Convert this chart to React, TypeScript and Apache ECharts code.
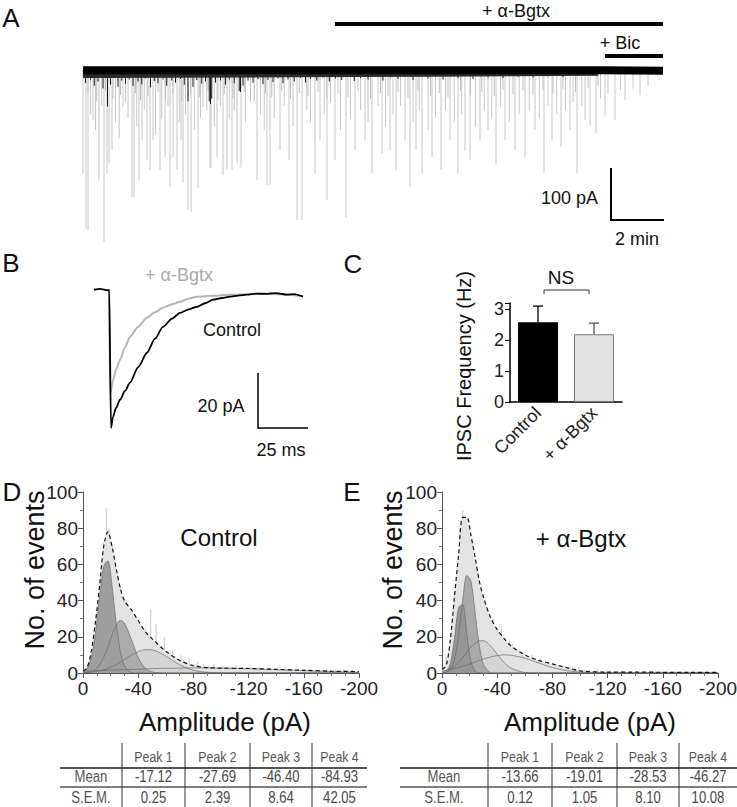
import React, { useEffect, useRef } from 'react';
import * as echarts from 'echarts';

const FONT = "'Liberation Sans', Arial, Helvetica, sans-serif";

// ---------- Panel A: continuous recording (time in min, current in pA) ----------
const aBaseline = [[0, 0], [20.8, 0], [23.2, -1]];
const aFringe = [[0, -11], [8, -10], [14, -9], [20.6, -7]];
const aLargeEvents = [
  [0.0, -198], [0.12, -304], [0.2, -308], [0.4, -96], [0.64, -212], [0.84, -331], [0.96, -198], [1.04, -179],
  [1.16, -154], [1.6, -71], [1.96, -244], [2.04, -244], [2.24, -212], [2.36, -135], [2.56, -173], [2.68, -192],
  [2.8, -135], [3.08, -192], [3.28, -167], [3.48, -225], [3.6, -167], [3.76, -192], [3.92, -135], [4.0, -217],
  [4.2, -269], [4.32, -273], [4.6, -227], [4.8, -71], [5.08, -187], [5.12, -188], [5.36, -167], [5.6, -202],
  [5.76, -192], [5.96, -192], [6.16, -179], [6.32, -187], [6.96, -212], [7.36, -221], [7.48, -221], [7.88, -154],
  [8.24, -173], [8.56, -288], [8.76, -288], [9.28, -198], [9.48, -135], [9.76, -250], [10.08, -173], [10.52, -283],
  [10.88, -154], [11.28, -135], [11.56, -198], [11.96, -160], [12.28, -154], [12.52, -192], [12.88, -135], [13.08, -225],
  [13.32, -154], [13.56, -198], [13.96, -167], [14.32, -192], [14.68, -135], [15.0, -198], [15.28, -154], [15.48, -173],
  [15.88, -135], [16.2, -115], [16.52, -179], [16.88, -135], [17.28, -154], [17.68, -167], [18.08, -115], [18.44, -198],
  [18.76, -135], [19.12, -148], [19.48, -115], [19.76, -198], [20.08, -96], [20.28, -106], [20.52, -121], [20.88, -87],
  [21.28, -96], [21.68, -58], [22.28, -48],
];
const aMediumEvents = [
  [0.3, -85], [0.5, -115], [0.75, -69], [1.3, -100], [1.45, -131], [1.8, -92], [2.15, -108], [2.45, -77],
  [2.9, -123], [3.15, -92], [3.4, -69], [3.85, -100], [4.1, -85], [4.45, -115], [4.7, -92], [4.95, -77],
  [5.25, -108], [5.5, -69], [5.85, -92], [6.05, -77], [6.5, -100], [6.7, -62], [7.1, -85], [7.25, -115],
  [7.65, -92], [8.05, -69], [8.4, -108], [8.95, -77], [9.1, -100], [9.65, -85], [9.9, -62], [10.3, -115],
  [10.7, -92], [11.1, -77], [11.4, -100], [11.8, -69], [12.1, -108], [12.4, -85], [12.7, -69], [13.2, -100],
  [13.45, -77], [13.8, -115], [14.1, -92], [14.5, -77], [14.85, -100], [15.15, -85], [15.7, -108], [16.05, -77],
  [16.35, -92], [16.7, -69], [17.05, -100], [17.45, -85], [17.85, -77], [18.25, -92], [18.6, -69], [18.95, -85],
  [19.3, -77], [19.6, -62], [19.95, -69], [20.7, -54], [21.0, -46], [21.5, -38], [22.0, -35], [22.6, -31],
];
const aShortEvents = [
  [0.2, -45], [0.55, -60], [0.9, -40], [1.2, -55], [1.5, -48], [1.7, -62], [2.1, -44], [2.3, -58], [2.6, -50],
  [3.0, -42], [3.3, -57], [3.6, -46], [3.95, -60], [4.3, -44], [4.65, -52], [5.0, -40], [5.4, -58], [5.65, -46],
  [6.0, -54], [6.45, -42], [6.85, -60], [7.3, -45], [7.55, -52], [7.95, -40], [8.3, -56], [8.65, -44], [9.0, -50],
  [9.4, -42], [9.75, -55], [10.2, -45], [10.6, -52], [11.0, -40], [11.5, -56], [11.9, -44], [12.2, -50], [12.6, -42],
  [13.0, -54], [13.4, -40], [13.9, -50], [14.25, -44], [14.6, -52], [15.1, -40], [15.5, -48], [15.95, -42],
  [16.45, -50], [16.8, -38], [17.2, -46], [17.6, -40], [18.0, -48], [18.4, -38], [18.8, -44], [19.2, -36],
  [19.7, -42], [20.2, -34], [20.6, -30],
];
const aSmallEvents = [
  [0.1, -25], [0.3, -18], [0.45, -30], [0.6, -22], [0.8, -35], [0.98, -70], [1.1, -28], [1.25, -15], [1.4, -32],
  [1.55, -20], [1.7, -26], [1.85, -18], [2.0, -30], [2.2, -22], [2.35, -27], [2.5, -16], [2.7, -33], [2.85, -21],
  [3.0, -25], [3.2, -18], [3.35, -30], [3.55, -20], [3.7, -24], [3.9, -17], [4.05, -28], [4.2, -60], [4.4, -32],
  [4.55, -19], [4.75, -26], [4.9, -22], [5.05, -60], [5.1, -65], [5.15, -55], [5.3, -24], [5.5, -20], [5.7, -28],
  [5.85, -18], [6.05, -25], [6.25, -40], [6.3, -42], [6.4, -30], [6.6, -20], [6.8, -24], [7.0, -17], [7.2, -27],
  [7.4, -19], [7.6, -23], [7.8, -16], [8.0, -25], [8.2, -18], [8.45, -22], [8.7, -15], [8.9, -24], [9.1, -17],
  [9.35, -20], [9.6, -14], [9.85, -22], [10.1, -16], [10.35, -19], [10.6, -13], [10.85, -21], [11.1, -15],
  [11.4, -18], [11.7, -13], [12.0, -20], [12.3, -14], [12.6, -17], [12.9, -12], [13.2, -19], [13.5, -13],
  [13.8, -16], [14.1, -12], [14.4, -18], [14.7, -12], [15.0, -15], [15.3, -11], [15.6, -17], [15.9, -12],
  [16.2, -14], [16.5, -10], [16.8, -15], [17.1, -11], [17.4, -13], [17.7, -10], [18.0, -14], [18.3, -10],
  [18.6, -12], [18.9, -9], [19.2, -13], [19.5, -9], [19.8, -11], [20.1, -8], [20.4, -10], [20.7, -8],
];

// ---------- Panel B: averaged IPSCs (time in ms, current in pA) ----------
const bControl = [
  [2, 0], [5, 0.3], [9, -0.2], [9.6, 0], [10.5, -50.2], [11.5, -46.2], [13, -43], [15, -40], [17.5, -36.8],
  [20, -33.8], [24, -28.2], [28.5, -22.9], [32.5, -17.8], [36.5, -13.5], [41, -10.5], [45, -8.4], [49, -7.2],
  [53.5, -6.2], [57.5, -4.9], [61.5, -3.6], [66, -3], [70, -2.5], [74, -2.1], [78.5, -1.8], [83, -1.4],
  [88.5, -1.5], [93, -1.2], [98.5, -1.8], [102, -1.6], [106.5, -2.5],
];
const bBgtx = [
  [9.6, 0], [10, -38.2], [11.5, -33], [13, -29], [15, -25.5], [17.5, -21], [20, -17.1], [24, -13.5],
  [28.5, -10.2], [32.5, -8.2], [36.5, -6.5], [41, -5.3], [45, -4.4], [49, -3.3], [53.5, -2.5], [61.5, -2.2],
  [70, -1.8], [80, -1.6], [90, -1.5], [100, -1.8], [106.5, -2.4],
];

// ---------- Panel C: IPSC frequency ----------
const cCategories = ['Control', '+ α-Bgtx'];
const cFrequency = [2.58, 2.19];
const cSem = [0.52, 0.36];

// ---------- Panels D/E: amplitude histograms ----------
const histBinWidth = 2;
const ctrlHist = [
  2, 4, 8, 15, 26, 38, 55, 72, 91, 80,
  70, 62, 55, 48, 42, 38, 34, 33, 28, 27,
  24, 22, 25, 20, 35, 18, 27, 16, 15, 20,
  12, 11, 13, 9, 8, 10, 7, 6, 8, 5,
  5, 6, 4, 5, 3, 4, 3, 5, 3, 2,
  4, 3, 2, 3, 2, 4, 2, 3, 2, 2,
  3, 2, 1, 3, 2, 1, 2, 3, 1, 2,
  1, 2, 1, 3, 1, 2, 1, 2, 1, 1,
  2, 1, 2, 1, 1, 2, 1, 1, 2, 1,
  1, 2, 1, 1, 2, 1, 1, 2, 1, 1,
];
const bgtxHist = [
  3, 9, 12, 24, 45, 62, 80, 90, 86, 84,
  74, 64, 56, 49, 42, 37, 31, 27, 30, 25,
  22, 26, 19, 17, 18, 16, 14, 13, 12, 11,
  10, 9, 10, 8, 7, 8, 6, 5, 6, 4,
  4, 5, 3, 3, 4, 2, 3, 2, 2, 3,
  1, 2, 1, 2, 1, 1, 2, 1, 1, 2,
  1, 0, 1, 1, 0, 1, 1, 0, 1, 0,
  1, 1, 0, 1, 0, 0, 1, 1, 0, 1,
  0, 1, 0, 0, 1, 0, 1, 0, 0, 1,
  0, 0, 1, 0, 1, 0, 0, 1, 0, 0,
];
const fitAmp = [0, -3, -6, -9, -12, -15, -18, -21, -24, -27, -30, -35, -40, -45, -50, -60, -70, -80, -90, -100, -120, -140, -160, -180, -200];
const ctrlP1 = [0.5, 2.5, 8.5, 21.9, 41.7, 59, 62, 48.4, 28, 12.1, 3.9, 0.3, 0, 0, 0, 0, 0, 0, 0, 0, 0, 0, 0, 0, 0];
const ctrlP2 = [0.1, 0.3, 0.8, 2, 4.4, 8.6, 14.4, 20.9, 26.4, 29, 27.6, 18.7, 8.6, 2.7, 0.6, 0, 0, 0, 0, 0, 0, 0, 0, 0, 0];
const ctrlP3 = [0.2, 0.3, 0.5, 0.8, 1.2, 1.8, 2.5, 3.5, 4.6, 6, 7.4, 9.8, 11.8, 12.9, 12.8, 9.3, 4.6, 1.5, 0.4, 0.1, 0, 0, 0, 0, 0];
const ctrlP4 = [1.0, 1.1, 1.2, 1.25, 1.3, 1.4, 1.6, 1.7, 1.75, 1.8, 1.8, 2.0, 2.1, 2.3, 2.4, 2.6, 2.7, 2.8, 2.8, 2.7, 2.4, 1.8, 1.3, 0.8, 0.4];
const ctrlEnv = [1, 3, 12, 28, 48, 70, 78, 70, 58, 47, 40, 35, 29, 23, 19, 12, 7, 4, 3, 2.7, 2.5, 2, 1.5, 1, 0.8];
const bgtxP1 = [0.1, 0.8, 5.1, 18.6, 36.2, 37.7, 21.1, 6.3, 1, 0.1, 0, 0, 0, 0, 0, 0, 0, 0, 0, 0, 0, 0, 0, 0, 0];
const bgtxP2 = [0, 0.3, 1.8, 7.4, 20.6, 39.9, 53.9, 50.7, 33.4, 15.2, 4.9, 0.3, 0, 0, 0, 0, 0, 0, 0, 0, 0, 0, 0, 0, 0];
const bgtxP3 = [0.6, 1.2, 2.2, 3.7, 5.9, 8.5, 11.4, 14.3, 16.6, 17.8, 17.8, 15.1, 10.4, 5.9, 2.7, 0.3, 0, 0, 0, 0, 0, 0, 0, 0, 0];
const bgtxP4 = [1.1, 1.5, 1.9, 2.4, 3, 3.7, 4.4, 5.2, 6.1, 6.9, 7.7, 8.8, 9.6, 10, 9.8, 8.2, 5.5, 3, 1.4, 0.5, 0, 0, 0, 0, 0];
const bgtxEnv = [2, 4, 18, 42, 65, 86, 86, 76, 64, 51, 42, 31, 24, 19, 15, 10, 7, 5, 3, 1.2, 0.5, 0.5, 0.4, 0.4, 0.4];

// ---------- Tables ----------
const peakHeaders = ['Peak 1', 'Peak 2', 'Peak 3', 'Peak 4'];
const rowLabels = ['Mean', 'S.E.M.'];
const ctrlMean = ['-17.12', '-27.69', '-46.40', '-84.93'];
const ctrlSemTbl = ['0.25', '2.39', '8.64', '42.05'];
const bgtxMean = ['-13.66', '-19.01', '-28.53', '-46.27'];
const bgtxSemTbl = ['0.12', '1.05', '8.10', '10.08'];

// ---------- helpers ----------
const pair = (xs: number[], ys: number[]) => xs.map((x, i) => [x, ys[i]]);

function spikes(data: number[][], color: string, width: number) {
  return {
    type: 'custom', xAxisIndex: 0, yAxisIndex: 0, data, silent: true, clip: false,
    encode: { x: 0, y: 1 },
    renderItem: (_p: any, api: any) => {
      const t = api.value(0), a = api.value(1);
      const p0 = api.coord([t, 0]);
      const p1 = api.coord([t, a]);
      return { type: 'line', shape: { x1: p0[0], y1: p0[1], x2: p1[0], y2: p1[1] }, style: { stroke: color, lineWidth: width } };
    },
  };
}

function histSeries(idx: number, hist: number[], comps: number[][], env: number[], p1Color: string, p2Color: string) {
  const bins = hist.map((v, i) => [-(i * histBinWidth + histBinWidth / 2), v]);
  const lineBase = { type: 'line', xAxisIndex: idx, yAxisIndex: idx, symbol: 'none', smooth: 0.3, silent: true };
  const compLine = { color: '#6a6a6a', width: 0.7 };
  return [
    { ...lineBase, data: pair(fitAmp, env), lineStyle: { width: 0 }, areaStyle: { color: '#e3e3e3', opacity: 1 } },
    { type: 'bar', xAxisIndex: idx, yAxisIndex: idx, data: bins, barWidth: 1.3, itemStyle: { color: '#d2d2d2' }, silent: true },
    { ...lineBase, data: pair(fitAmp, comps[3]), lineStyle: compLine },
    { ...lineBase, data: pair(fitAmp, comps[2]), lineStyle: compLine, areaStyle: { color: '#d4d4d4', opacity: 1 } },
    { ...lineBase, data: pair(fitAmp, comps[1]), lineStyle: compLine, areaStyle: { color: p2Color, opacity: 1 } },
    { ...lineBase, data: pair(fitAmp, comps[0]), lineStyle: compLine, areaStyle: { color: p1Color, opacity: 1 } },
    { ...lineBase, data: pair(fitAmp, env), lineStyle: { color: '#111', width: 1.2, type: [4, 3] } },
  ];
}

function txt(text: string, x: number, y: number, size: number, o: any = {}) {
  return {
    type: 'text', x, y, rotation: o.rot || 0, scaleX: o.sx || 1, silent: true,
    style: { text, fill: o.color || '#111', font: `${size}px ${FONT}`, align: o.align || 'center', verticalAlign: 'middle' },
  };
}
function ln(x1: number, y1: number, x2: number, y2: number, w = 1, c = '#000') {
  return { type: 'line', silent: true, shape: { x1, y1, x2, y2 }, style: { stroke: c, lineWidth: w } };
}

function table(x0: number, x1: number, bounds: number[], means: string[], sems: string[]) {
  const els: any[] = [];
  const rowY = [757, 777, 798];
  const labelCx = (x0 + bounds[0]) / 2;
  const edges = [...bounds, x1];
  const cell = { sx: 0.82, color: '#4a4a4a' };
  peakHeaders.forEach((h, i) => {
    const cx = (edges[i] + edges[i + 1]) / 2;
    els.push(txt(h, cx, rowY[0], 15, { sx: 0.82, color: '#555' }));
    els.push(txt(means[i], cx, rowY[1], 16, cell));
    els.push(txt(sems[i], cx, rowY[2], 16, cell));
  });
  els.push(txt(rowLabels[0], labelCx, rowY[1], 16, { sx: 0.82, color: '#555' }));
  els.push(txt(rowLabels[1], labelCx, rowY[2], 16, { sx: 0.82, color: '#555' }));
  els.push(ln(x0, 768, x1, 768, 2, '#555'));
  els.push(ln(x0, 787, x1, 787, 1.5, '#555'));
  bounds.forEach((b) => els.push(ln(b, 743, b, 807, 1, '#333')));
  return els;
}

const histXAxis = (gridIndex: number) => ({
  type: 'value', gridIndex, min: -200, max: 0, interval: 40, inverse: true,
  axisLine: { show: true, lineStyle: { color: '#555', width: 1 } },
  axisTick: { show: true, length: 5, lineStyle: { color: '#555' } },
  minorTick: { show: true, splitNumber: 4, length: 3, lineStyle: { color: '#777' } },
  axisLabel: { fontSize: 19, color: '#222', margin: 6, fontFamily: FONT },
  splitLine: { show: false },
});
const histYAxis = (gridIndex: number) => ({
  type: 'value', gridIndex, min: 0, max: 100, interval: 20,
  axisLine: { show: true, lineStyle: { color: '#555', width: 1 } },
  axisTick: { show: true, length: 5, lineStyle: { color: '#555' } },
  minorTick: { show: true, splitNumber: 2, length: 3, lineStyle: { color: '#777' } },
  axisLabel: { fontSize: 19, color: '#222', margin: 5, fontFamily: FONT },
  splitLine: { show: false },
});

const option: any = {
  animation: false,
  backgroundColor: '#fff',
  textStyle: { fontFamily: FONT },
  grid: [
    { left: 83, top: 66, width: 580, height: 181, outerBoundsMode: 'none' },
    { left: 90, top: 276, width: 220, height: 165, outerBoundsMode: 'none' },
    { left: 510, top: 303, width: 112, height: 99, outerBoundsMode: 'none' },
    { left: 83, top: 492, width: 276, height: 181, outerBoundsMode: 'none' },
    { left: 442, top: 492, width: 276, height: 181, outerBoundsMode: 'none' },
  ],
  xAxis: [
    { type: 'value', gridIndex: 0, min: 0, max: 23.2, show: false },
    { type: 'value', gridIndex: 1, min: 0, max: 110, show: false },
    {
      type: 'category', gridIndex: 2, data: cCategories,
      axisLine: { show: true, lineStyle: { color: '#000', width: 1.5 } },
      axisTick: { show: false },
      axisLabel: { rotate: 45, fontSize: 18, color: '#222', margin: 8, fontFamily: FONT, interval: 0 },
    },
    histXAxis(3),
    histXAxis(4),
  ],
  yAxis: [
    { type: 'value', gridIndex: 0, min: -340, max: 8, show: false },
    { type: 'value', gridIndex: 1, min: -55, max: 5, show: false },
    {
      type: 'value', gridIndex: 2, min: 0, max: 3.2, interval: 1,
      axisLine: { show: true, lineStyle: { color: '#000', width: 1.5 } },
      axisTick: { show: true, length: 5, lineStyle: { color: '#000' } },
      axisLabel: { fontSize: 18, color: '#222', margin: 6, fontFamily: FONT, formatter: (v: number) => (Number.isInteger(v) ? String(v) : '') },
      splitLine: { show: false },
    },
    histYAxis(3),
    histYAxis(4),
  ],
  series: [
    spikes(aShortEvents, '#bdbdbd', 1),
    spikes(aMediumEvents, '#c6c6c6', 1),
    spikes(aLargeEvents, '#c6c6c6', 1),
    { type: 'line', xAxisIndex: 0, yAxisIndex: 0, data: aFringe, symbol: 'none', silent: true, lineStyle: { color: '#2a2a2a', width: 4 } },
    { type: 'line', xAxisIndex: 0, yAxisIndex: 0, data: aBaseline, symbol: 'none', silent: true, lineStyle: { color: '#000', width: 8 } },
    spikes(aSmallEvents, '#1a1a1a', 1),
    { type: 'line', xAxisIndex: 1, yAxisIndex: 1, data: bBgtx, symbol: 'none', silent: true, smooth: 0.25, smoothMonotone: 'x', lineStyle: { color: '#b4b4b4', width: 2 } },
    { type: 'line', xAxisIndex: 1, yAxisIndex: 1, data: bControl, symbol: 'none', silent: true, smooth: 0.25, smoothMonotone: 'x', lineStyle: { color: '#000', width: 1.8 } },
    {
      type: 'bar', xAxisIndex: 2, yAxisIndex: 2, barWidth: 40, silent: true,
      data: [
        { value: cFrequency[0], itemStyle: { color: '#000' } },
        { value: cFrequency[1], itemStyle: { color: '#e2e2e2', borderColor: '#777', borderWidth: 1 } },
      ],
    },
    {
      type: 'custom', xAxisIndex: 2, yAxisIndex: 2, silent: true, clip: false,
      data: cFrequency.map((v, i) => [i, v, cSem[i]]),
      encode: { x: 0, y: 1 },
      renderItem: (params: any, api: any) => {
        const i = api.value(0), v = api.value(1), e = api.value(2);
        const b = api.coord([i, v]);
        const t = api.coord([i, v + e]);
        const c = params.dataIndex === 0 ? '#000' : '#555';
        return {
          type: 'group', children: [
            { type: 'line', shape: { x1: b[0], y1: b[1], x2: t[0], y2: t[1] }, style: { stroke: c, lineWidth: 1.3 } },
            { type: 'line', shape: { x1: t[0] - 5, y1: t[1], x2: t[0] + 5, y2: t[1] }, style: { stroke: c, lineWidth: 1.3 } },
          ],
        };
      },
    },
    ...histSeries(3, ctrlHist, [ctrlP1, ctrlP2, ctrlP3, ctrlP4], ctrlEnv, '#9e9e9e', '#ababab'),
    ...histSeries(4, bgtxHist, [bgtxP1, bgtxP2, bgtxP3, bgtxP4], bgtxEnv, '#959595', '#a9a9a9'),
  ],
  graphic: {
    elements: [
      // Panel A
      txt('A', 11, 18, 26),
      txt('+ α-Bgtx', 516, 11, 18),
      { type: 'rect', silent: true, shape: { x: 335, y: 22, width: 328, height: 4 }, style: { fill: '#000' } },
      txt('+ Bic', 620, 43, 18),
      { type: 'rect', silent: true, shape: { x: 605, y: 54, width: 58, height: 4 }, style: { fill: '#000' } },
      ln(611, 168, 611, 221, 2),
      ln(610, 220, 664, 220, 2),
      txt('100 pA', 598, 198, 18, { align: 'right' }),
      txt('2 min', 637, 239, 18),
      // Panel B
      txt('B', 11, 263, 26),
      txt('+ α-Bgtx', 179, 275, 18, { color: '#aaa' }),
      txt('Control', 232, 330, 18),
      ln(258, 373, 258, 429, 1.5),
      ln(258, 428, 308, 428, 1.5),
      txt('20 pA', 221, 406, 18),
      txt('25 ms', 281, 450, 18),
      // Panel C
      txt('C', 353, 264, 26),
      txt('NS', 561, 277, 19),
      { type: 'polyline', silent: true, shape: { points: [[544, 294], [544, 290], [589, 290], [589, 294]] }, style: { stroke: '#333', lineWidth: 1, fill: null } },
      txt('IPSC Frequency (Hz)', 464, 366, 20, { rot: Math.PI / 2 }),
      // Panel D
      txt('D', 12, 492, 26),
      txt('No. of events', 35, 570, 27, { rot: Math.PI / 2 }),
      txt('Control', 219, 537, 24),
      txt('Amplitude (pA)', 225, 722, 26),
      // Panel E
      txt('E', 352, 492, 26),
      txt('No. of events', 393, 570, 27, { rot: Math.PI / 2 }),
      txt('+ α-Bgtx', 581, 538, 24),
      txt('Amplitude (pA)', 590, 722, 26),
      // Tables
      ...table(60, 367, [122, 185, 250, 312], ctrlMean, ctrlSemTbl),
      ...table(400, 737, [488, 552, 617, 679], bgtxMean, bgtxSemTbl),
    ],
  },
};

export default function App() {
  const ref = useRef<HTMLDivElement>(null);
  useEffect(() => {
    const chart = echarts.init(ref.current as HTMLDivElement, null, { renderer: 'svg' });
    chart.setOption(option);
    return () => chart.dispose();
  }, []);
  return <div ref={ref} style={{ position: 'absolute', left: 0, top: 0, width: 737, height: 807, background: '#fff' }} />;
}
